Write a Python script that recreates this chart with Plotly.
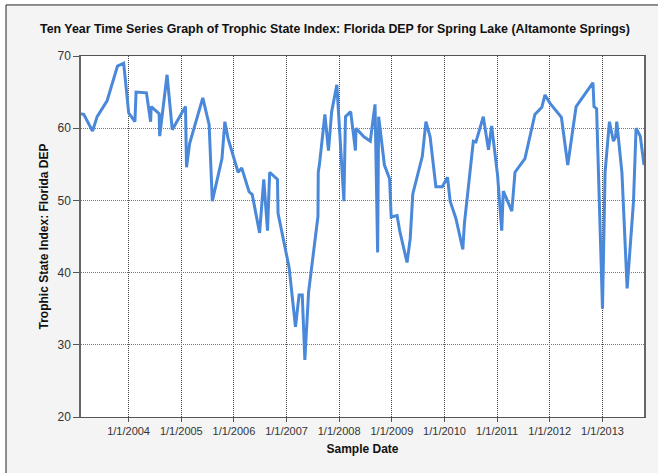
import plotly.graph_objects as go

dates = [
    "2003-02-05", "2003-02-25", "2003-04-26", "2003-05-28", "2003-08-05", "2003-09-02",
    "2003-10-16", "2003-11-28", "2004-01-02", "2004-02-14", "2004-02-22", "2004-05-04",
    "2004-06-02", "2004-06-06", "2004-07-31", "2004-08-04", "2004-09-24", "2004-10-30",
    "2005-01-30", "2005-02-06", "2005-02-28", "2005-05-30", "2005-07-13", "2005-08-04",
    "2005-10-10", "2005-10-30", "2005-11-21", "2006-01-30", "2006-02-24", "2006-04-16",
    "2006-05-08", "2006-06-28", "2006-07-27", "2006-08-22", "2006-09-06", "2006-10-30",
    "2006-11-03", "2007-01-19", "2007-03-04", "2007-03-29", "2007-04-20", "2007-05-08",
    "2007-06-03", "2007-08-07", "2007-08-09", "2007-08-18", "2007-09-24", "2007-10-19",
    "2007-11-10", "2007-12-16", "2008-02-03", "2008-02-14", "2008-03-21", "2008-04-23",
    "2008-04-27", "2008-06-21", "2008-08-04", "2008-09-06", "2008-09-24", "2008-10-01",
    "2008-11-10", "2008-12-16", "2008-12-27", "2009-02-06", "2009-02-24", "2009-04-16",
    "2009-05-08", "2009-05-26", "2009-07-31", "2009-08-25", "2009-09-23", "2009-11-02",
    "2009-12-16", "2010-01-22", "2010-02-09", "2010-03-21", "2010-05-08", "2010-05-19",
    "2010-07-20", "2010-08-07", "2010-09-27", "2010-11-02", "2010-11-24", "2011-01-04",
    "2011-02-02", "2011-02-13", "2011-04-13", "2011-05-05", "2011-07-13", "2011-09-20",
    "2011-11-07", "2011-11-29", "2012-01-05", "2012-03-22", "2012-05-05", "2012-07-02",
    "2012-10-27", "2012-11-03", "2012-11-21", "2013-01-01", "2013-01-19", "2013-02-18",
    "2013-03-18", "2013-04-02", "2013-04-10", "2013-05-16", "2013-06-21", "2013-08-04",
    "2013-08-22", "2013-09-20", "2013-10-16",
]

tsi = [
    62.0, 61.9, 59.6, 61.6, 63.8, 65.8,
    68.6, 69.0, 62.1, 60.9, 65.0, 64.9,
    60.9, 63.0, 62.0, 58.9, 67.4, 59.8,
    63.0, 54.6, 57.9, 64.2, 60.5, 49.9,
    55.8, 60.9, 58.6, 53.9, 54.5, 51.2,
    50.8, 45.5, 52.9, 45.8, 53.9, 52.9,
    48.2, 40.7, 32.5, 36.9, 36.9, 27.9,
    37.3, 47.8, 53.9, 55.1, 61.9, 56.9,
    62.3, 66.0, 49.9, 61.6, 62.3, 56.9,
    60.0, 58.8, 58.2, 63.3, 42.8, 61.6,
    54.9, 53.0, 47.7, 47.9, 45.8, 41.4,
    44.7, 50.9, 56.1, 60.9, 58.8, 51.9,
    51.9, 53.2, 49.9, 47.5, 43.2, 46.8,
    58.2, 58.1, 61.6, 57.0, 60.3, 53.5,
    45.8, 51.3, 48.5, 53.9, 55.8, 61.9,
    62.9, 64.6, 63.4, 61.5, 54.9, 63.0,
    66.3, 63.0, 62.7, 35.0, 53.9, 60.9,
    58.2, 58.8, 60.9, 53.8, 37.8, 49.8,
    60.0, 58.9, 54.9,
]

title_text = "Ten Year Time Series Graph of Trophic State Index: Florida DEP for Spring Lake (Altamonte Springs)"
x_title = "Sample Date"
y_title = "Trophic State Index: Florida DEP"
y_ticks = [20, 30, 40, 50, 60, 70]

fig = go.Figure()
fig.add_trace(go.Scatter(
    x=dates, y=tsi, mode="lines",
    line=dict(color="#4a88da", width=3),
    hoverinfo="x+y",
))

font_family = "Liberation Sans, Arial, sans-serif"

fig.update_layout(
    width=658, height=473,
    margin=dict(l=81, r=14, t=56, b=56),
    paper_bgcolor="white",
    plot_bgcolor="white",
    showlegend=False,
    font=dict(family=font_family, size=11, color="#333"),
    title=dict(
        text="<b>" + title_text + "</b>",
        x=0.509, xanchor="center", y=0.94, yanchor="middle",
        font=dict(family=font_family, size=12.4, color="#111"),
    ),
    xaxis=dict(
        type="date",
        range=[dates[0], dates[-1]],
        tick0="2004-01-01", dtick="M12",
        tickformat="%-m/%-d/%Y",
        ticks="outside", ticklen=4, tickcolor="#555",
        showgrid=True, gridcolor="#444", griddash="1px,1px", gridwidth=1,
        showline=True, linecolor="#555", linewidth=1, mirror=True,
        tickfont=dict(size=11, color="#333"),
        title=dict(text="<b>" + x_title + "</b>", standoff=8,
                   font=dict(size=12, color="#111")),
        zeroline=False,
    ),
    yaxis=dict(
        range=[20, 70],
        tickvals=y_ticks,
        ticks="outside", ticklen=6, tickcolor="#555",
        showgrid=True, gridcolor="#777", griddash="1px,1px", gridwidth=1,
        showline=True, linecolor="#666", linewidth=1.5, mirror=True,
        tickfont=dict(size=12, color="#333"),
        title=dict(text="<b>" + y_title + "</b>", standoff=6,
                   font=dict(size=12, color="#111")),
        zeroline=False,
    ),
    shapes=[
        dict(type="rect", xref="paper", yref="paper", layer="below",
             x0=-0.1332, x1=1.05, y0=-0.2, y1=1.1414,
             fillcolor="#f4f4f4", line=dict(color="#222", width=1)),
        dict(type="rect", xref="paper", yref="paper", layer="below",
             x0=0, x1=1, y0=0, y1=1,
             fillcolor="white", line=dict(width=0)),
    ],
)

fig.write_html(
    "out.html",
    config={"displayModeBar": False},
    post_script="document.body.style.margin='0px';document.body.style.padding='0px';",
)
